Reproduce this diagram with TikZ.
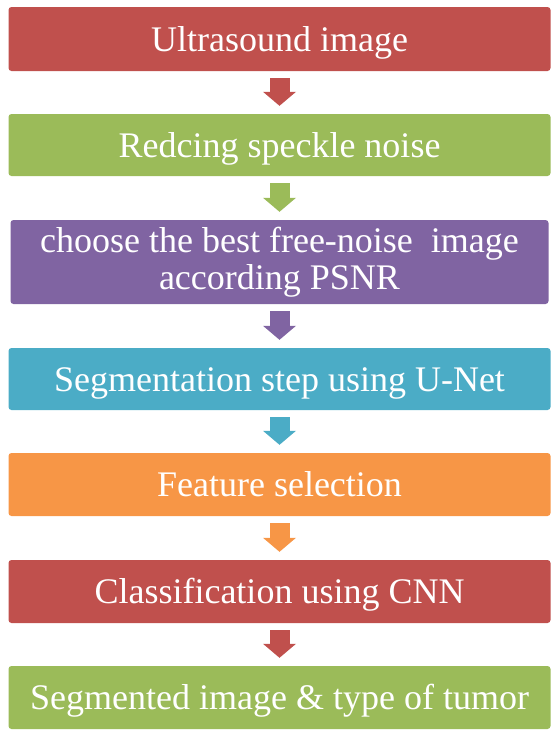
\documentclass[tikz,border=0pt]{standalone}
\usepackage{fontspec}
\setmainfont{Liberation Serif}
\usetikzlibrary{arrows.meta}
\definecolor{redbox}{HTML}{C0504D}
\definecolor{greenbox}{HTML}{9BBB59}
\definecolor{purplebox}{HTML}{8064A2}
\definecolor{aquabox}{HTML}{4BACC6}
\definecolor{orangebox}{HTML}{F79646}

\begin{document}
\begin{tikzpicture}[x=1pt, y=-1pt,
  stepbox/.style={rectangle, rounded corners=3pt, text=white, inner sep=0pt,
    minimum width=542pt, font=\fontsize{36}{37}\selectfont},
  onebox/.style={stepbox, minimum height=63pt, text height=24pt, text depth=0pt},
  flow/.style={line width=20pt, -{Triangle[width=33pt,length=14pt,line width=0pt]},
    shorten <=7pt, shorten >=8pt}]
\useasboundingbox (0,0) rectangle (559,737);
\node[onebox, fill=redbox, minimum height=64pt] (ultra) at (279.5,39) {Ultrasound image};
\node[onebox, fill=greenbox, minimum height=62pt] (noise) at (279.5,145) {Redcing speckle noise};
\node[stepbox, fill=purplebox, minimum width=538pt, minimum height=84pt, align=center] (psnr) at (279.5,262)
  {choose the best free-noise\ \ image\\according PSNR};
\node[onebox, fill=aquabox, minimum height=62pt] (unet) at (279.5,379) {Segmentation step using U-Net};
\node[onebox, fill=orangebox] (feat) at (279.5,484.5) {Feature selection};
\node[onebox, fill=redbox] (cnn) at (279.5,591.5) {Classification using CNN};
\node[onebox, fill=greenbox] (result) at (279.5,697.5) {Segmented image \& type of tumor};
% arrows between steps
\draw[flow, redbox] (ultra) -- (noise);
\draw[flow, greenbox] (noise) -- (psnr);
\draw[flow, purplebox] (psnr) -- (unet);
\draw[flow, aquabox] (unet) -- (feat);
\draw[flow, orangebox] (feat) -- (cnn);
\draw[flow, redbox] (cnn) -- (result);
\end{tikzpicture}
\end{document}
